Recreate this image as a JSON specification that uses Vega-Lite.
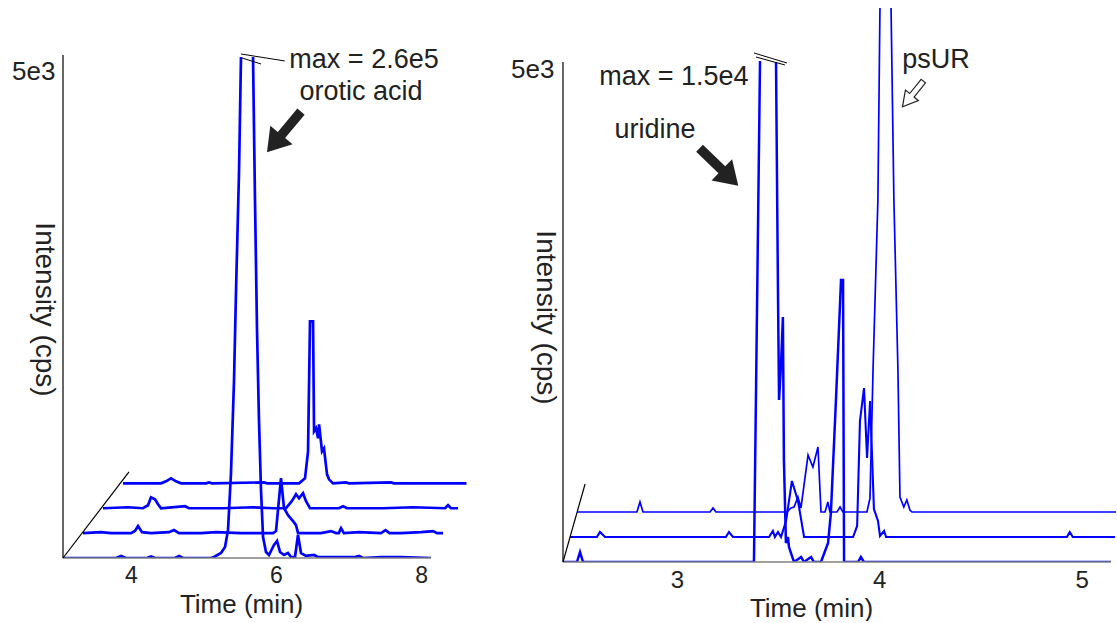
{
  "$schema": "https://vega.github.io/schema/vega-lite/v6.json",
  "padding": {"left": 11, "top": 8, "right": 0, "bottom": 0},
  "background": "white",
  "config": {"view": {"stroke": null}, "font": "Liberation Sans"},
  "spacing": 95,
  "bounds": "flush",
  "datasets": {
    "one": [{}],
    "left": [
      {"trace":0,"t":3.062,"v":0},{"trace":0,"t":3.793,"v":0},{"trace":0,"t":3.862,"v":21},{"trace":0,"t":3.931,"v":0},{"trace":0,"t":4.221,"v":0},{"trace":0,"t":4.276,"v":15},{"trace":0,"t":4.331,"v":0},{"trace":0,"t":4.607,"v":0},{"trace":0,"t":4.662,"v":21},{"trace":0,"t":4.717,"v":0},{"trace":0,"t":5.103,"v":0},{"trace":0,"t":5.145,"v":10},{"trace":0,"t":5.241,"v":51},{"trace":0,"t":5.297,"v":113},{"trace":0,"t":5.338,"v":288},{"trace":0,"t":5.379,"v":875},{"trace":0,"t":5.421,"v":1831},{"trace":0,"t":5.448,"v":2737},{"trace":0,"t":5.49,"v":3982},{"trace":0,"t":5.517,"v":5154},{"trace":0,"t":5.6,"v":null},{"trace":0,"t":5.683,"v":5154},{"trace":0,"t":5.71,"v":3683},{"trace":0,"t":5.738,"v":2346},{"trace":0,"t":5.765,"v":1420},{"trace":0,"t":5.793,"v":700},{"trace":0,"t":5.821,"v":216},{"trace":0,"t":5.862,"v":62},{"trace":0,"t":5.903,"v":31},{"trace":0,"t":5.972,"v":134},{"trace":0,"t":6.014,"v":175},{"trace":0,"t":6.055,"v":62},{"trace":0,"t":6.11,"v":31},{"trace":0,"t":6.165,"v":51},{"trace":0,"t":6.207,"v":10},{"trace":0,"t":6.262,"v":10},{"trace":0,"t":6.303,"v":237},{"trace":0,"t":6.345,"v":51},{"trace":0,"t":6.414,"v":21},{"trace":0,"t":6.524,"v":31},{"trace":0,"t":6.579,"v":10},{"trace":0,"t":7.09,"v":10},{"trace":0,"t":7.145,"v":21},{"trace":0,"t":7.2,"v":0},{"trace":0,"t":7.448,"v":10},{"trace":0,"t":7.724,"v":10},{"trace":0,"t":8.138,"v":0},
      {"trace":1,"t":3.062,"v":0},{"trace":1,"t":3.31,"v":10},{"trace":1,"t":3.448,"v":0},{"trace":1,"t":3.724,"v":0},{"trace":1,"t":3.779,"v":21},{"trace":1,"t":3.821,"v":72},{"trace":1,"t":3.876,"v":10},{"trace":1,"t":4.0,"v":0},{"trace":1,"t":4.248,"v":10},{"trace":1,"t":4.317,"v":31},{"trace":1,"t":4.386,"v":0},{"trace":1,"t":4.69,"v":0},{"trace":1,"t":4.897,"v":10},{"trace":1,"t":5.242,"v":0},{"trace":1,"t":5.683,"v":0},{"trace":1,"t":5.724,"v":21},{"trace":1,"t":5.793,"v":566},{"trace":1,"t":5.834,"v":257},{"trace":1,"t":5.89,"v":185},{"trace":1,"t":5.959,"v":123},{"trace":1,"t":6.0,"v":82},{"trace":1,"t":6.028,"v":0},{"trace":1,"t":6.345,"v":0},{"trace":1,"t":6.483,"v":21},{"trace":1,"t":6.552,"v":0},{"trace":1,"t":6.59,"v":0},{"trace":1,"t":6.621,"v":51},{"trace":1,"t":6.66,"v":0},{"trace":1,"t":6.869,"v":10},{"trace":1,"t":7.172,"v":0},{"trace":1,"t":7.234,"v":31},{"trace":1,"t":7.29,"v":0},{"trace":1,"t":7.448,"v":0},{"trace":1,"t":7.724,"v":10},{"trace":1,"t":7.89,"v":21},{"trace":1,"t":7.945,"v":0},{"trace":1,"t":8.028,"v":0},
      {"trace":2,"t":3.062,"v":0},{"trace":2,"t":3.407,"v":10},{"trace":2,"t":3.614,"v":0},{"trace":2,"t":3.683,"v":31},{"trace":2,"t":3.724,"v":113},{"trace":2,"t":3.779,"v":93},{"trace":2,"t":3.821,"v":41},{"trace":2,"t":3.862,"v":0},{"trace":2,"t":4.193,"v":21},{"trace":2,"t":4.248,"v":0},{"trace":2,"t":4.717,"v":0},{"trace":2,"t":5.131,"v":10},{"trace":2,"t":5.407,"v":0},{"trace":2,"t":5.586,"v":0},{"trace":2,"t":5.655,"v":62},{"trace":2,"t":5.683,"v":93},{"trace":2,"t":5.724,"v":144},{"trace":2,"t":5.766,"v":103},{"trace":2,"t":5.821,"v":154},{"trace":2,"t":5.862,"v":72},{"trace":2,"t":5.917,"v":0},{"trace":2,"t":6.317,"v":0},{"trace":2,"t":6.372,"v":21},{"trace":2,"t":6.428,"v":0},{"trace":2,"t":6.924,"v":0},{"trace":2,"t":7.338,"v":10},{"trace":2,"t":7.779,"v":0},{"trace":2,"t":7.821,"v":31},{"trace":2,"t":7.862,"v":0},{"trace":2,"t":7.959,"v":0},
      {"trace":3,"t":3.062,"v":0},{"trace":3,"t":3.586,"v":0},{"trace":3,"t":3.655,"v":21},{"trace":3,"t":3.724,"v":51},{"trace":3,"t":3.793,"v":21},{"trace":3,"t":3.862,"v":0},{"trace":3,"t":4.207,"v":0},{"trace":3,"t":4.248,"v":10},{"trace":3,"t":4.29,"v":0},{"trace":3,"t":5.007,"v":10},{"trace":3,"t":5.048,"v":0},{"trace":3,"t":5.49,"v":0},{"trace":3,"t":5.572,"v":51},{"trace":3,"t":5.614,"v":329},{"trace":3,"t":5.641,"v":1667},{"trace":3,"t":5.683,"v":1667},{"trace":3,"t":5.697,"v":535},{"trace":3,"t":5.724,"v":566},{"trace":3,"t":5.752,"v":463},{"trace":3,"t":5.766,"v":607},{"trace":3,"t":5.807,"v":329},{"trace":3,"t":5.834,"v":360},{"trace":3,"t":5.876,"v":93},{"trace":3,"t":5.903,"v":41},{"trace":3,"t":5.959,"v":0},{"trace":3,"t":6.138,"v":10},{"trace":3,"t":6.179,"v":0},{"trace":3,"t":6.759,"v":10},{"trace":3,"t":6.8,"v":0},{"trace":3,"t":7.8,"v":0}
    ],
    "right": [
      {"trace":0,"t":2.438,"v":0},{"trace":0,"t":2.507,"v":0},{"trace":0,"t":2.522,"v":102},{"trace":0,"t":2.537,"v":0},{"trace":0,"t":3.381,"v":0},{"trace":0,"t":3.411,"v":5092},{"trace":0,"t":3.45,"v":null},{"trace":0,"t":3.49,"v":5082},{"trace":0,"t":3.5,"v":2663},{"trace":0,"t":3.505,"v":1646},{"trace":0,"t":3.515,"v":2022},{"trace":0,"t":3.524,"v":2490},{"trace":0,"t":3.529,"v":1037},{"trace":0,"t":3.539,"v":193},{"trace":0,"t":3.549,"v":254},{"trace":0,"t":3.554,"v":152},{"trace":0,"t":3.564,"v":91},{"trace":0,"t":3.579,"v":0},{"trace":0,"t":3.614,"v":51},{"trace":0,"t":3.628,"v":0},{"trace":0,"t":3.663,"v":51},{"trace":0,"t":3.677,"v":0},{"trace":0,"t":3.712,"v":0},{"trace":0,"t":3.747,"v":193},{"trace":0,"t":3.761,"v":498},{"trace":0,"t":3.786,"v":1646},{"trace":0,"t":3.811,"v":2866},{"trace":0,"t":3.821,"v":2866},{"trace":0,"t":3.826,"v":0},{"trace":0,"t":3.895,"v":0},{"trace":0,"t":3.909,"v":51},{"trace":0,"t":3.924,"v":0},{"trace":0,"t":5.144,"v":0},
      {"trace":1,"t":2.438,"v":0},{"trace":1,"t":2.571,"v":0},{"trace":1,"t":2.586,"v":51},{"trace":1,"t":2.611,"v":0},{"trace":1,"t":3.208,"v":0},{"trace":1,"t":3.223,"v":51},{"trace":1,"t":3.243,"v":0},{"trace":1,"t":3.421,"v":0},{"trace":1,"t":3.44,"v":61},{"trace":1,"t":3.45,"v":0},{"trace":1,"t":3.465,"v":51},{"trace":1,"t":3.48,"v":0},{"trace":1,"t":3.505,"v":163},{"trace":1,"t":3.534,"v":569},{"trace":1,"t":3.564,"v":366},{"trace":1,"t":3.594,"v":0},{"trace":1,"t":3.836,"v":0},{"trace":1,"t":3.856,"v":112},{"trace":1,"t":3.87,"v":1179},{"trace":1,"t":3.89,"v":1514},{"trace":1,"t":3.905,"v":803},{"trace":1,"t":3.92,"v":1382},{"trace":1,"t":3.939,"v":285},{"trace":1,"t":3.959,"v":163},{"trace":1,"t":3.969,"v":10},{"trace":1,"t":3.989,"v":61},{"trace":1,"t":3.999,"v":0},{"trace":1,"t":4.892,"v":0},{"trace":1,"t":4.906,"v":51},{"trace":1,"t":4.921,"v":0},{"trace":1,"t":5.13,"v":0},
      {"trace":2,"t":2.438,"v":0},{"trace":2,"t":2.734,"v":0},{"trace":2,"t":2.749,"v":102},{"trace":2,"t":2.764,"v":0},{"trace":2,"t":3.095,"v":0},{"trace":2,"t":3.11,"v":41},{"trace":2,"t":3.124,"v":0},{"trace":2,"t":3.475,"v":0},{"trace":2,"t":3.495,"v":41},{"trace":2,"t":3.51,"v":51},{"trace":2,"t":3.529,"v":152},{"trace":2,"t":3.544,"v":41},{"trace":2,"t":3.579,"v":579},{"trace":2,"t":3.603,"v":457},{"trace":2,"t":3.628,"v":661},{"trace":2,"t":3.643,"v":0},{"trace":2,"t":3.663,"v":0},{"trace":2,"t":3.677,"v":102},{"trace":2,"t":3.687,"v":0},{"trace":2,"t":3.722,"v":0},{"trace":2,"t":3.737,"v":51},{"trace":2,"t":3.751,"v":0},{"trace":2,"t":3.87,"v":0},{"trace":2,"t":3.885,"v":142},{"trace":2,"t":3.9,"v":1443},{"trace":2,"t":3.924,"v":3171},{"trace":2,"t":3.934,"v":5092},{"trace":2,"t":3.944,"v":6200},{"trace":2,"t":3.984,"v":6200},{"trace":2,"t":3.989,"v":5112},{"trace":2,"t":4.003,"v":3171},{"trace":2,"t":4.023,"v":1443},{"trace":2,"t":4.033,"v":152},{"trace":2,"t":4.052,"v":51},{"trace":2,"t":4.067,"v":122},{"trace":2,"t":4.082,"v":20},{"trace":2,"t":4.092,"v":0},{"trace":2,"t":5.1,"v":0}
    ],
    "leftText": [
      {"label":"max = 2.6e5","t":7.214,"v":5041},
      {"label":"orotic acid","t":7.172,"v":4712}
    ],
    "rightText": [
      {"label":"max = 1.5e4","t":2.986,"v":4848},
      {"label":"uridine","t":2.892,"v":4309},
      {"label":"psUR","t":4.28,"v":5021}
    ]
  },
  "hconcat": [
    {
      "width": 405,
      "height": 550,
      "layer": [
        {
          "data": {"name": "left"},
          "transform": [
            {"calculate": "datum.t + datum.trace * 0.2759", "as": "td"},
            {"calculate": "datum.v === null ? null : datum.v + datum.trace * 256", "as": "vd"}
          ],
          "mark": {"type": "line", "color": "#0000ff", "strokeWidth": 2.7, "clip": true, "invalid": "break-paths-show-domains"},
          "encoding": {
            "x": {"field": "td", "type": "quantitative", "scale": {"domain": [3.062, 8.648], "nice": false, "zero": false},
              "axis": {"values": [4, 6, 8], "format": "d", "domain": false, "ticks": false, "grid": false, "labelFontSize": 23, "labelPadding": 6, "labelColor": "#222", "labelFlush": false, "labelOverlap": false,
                "title": "Time (min)", "titleFontSize": 26, "titleFontWeight": "normal", "titleColor": "#222", "titleX": 178, "titleY": 54, "titleAlign": "center", "titleBaseline": "alphabetic"}},
            "y": {"field": "vd", "type": "quantitative", "scale": {"domain": [0, 5658], "nice": false, "zero": false},
              "axis": {"values": [5000], "labelExpr": "'5e3'", "domain": false, "ticks": false, "grid": false, "labelFontSize": 26, "labelPadding": 8, "labelColor": "#222",
                "title": "Intensity (cps)", "titleAngle": 90, "titleX": -28, "titleY": 301, "titleAlign": "center", "titleBaseline": "alphabetic", "titleFontSize": 28, "titleFontWeight": "normal", "titleColor": "#222"}},
            "detail": {"field": "trace"}
          }
        },
        {
          "data": {"name": "one"},
          "mark": {"type": "rule", "color": "#808080", "strokeWidth": 1.5},
          "encoding": {
            "x": {"datum": 3.062, "type": "quantitative"},
            "x2": {"datum": 8.138},
            "y": {"datum": 0, "type": "quantitative"}
          }
        },
        {
          "data": {"name": "one"},
          "mark": {"type": "rule", "color": "black", "strokeWidth": 1.2},
          "encoding": {
            "x": {"datum": 3.062, "type": "quantitative"},
            "y": {"datum": 0, "type": "quantitative"},
            "y2": {"datum": 5175}
          }
        },
        {
          "data": {"name": "one"},
          "mark": {"type": "rule", "color": "black", "strokeWidth": 1.2},
          "encoding": {
            "x": {"datum": 3.062, "type": "quantitative"},
            "x2": {"datum": 3.972},
            "y": {"datum": 0, "type": "quantitative"},
            "y2": {"datum": 885}
          }
        },
        {
          "data": {"name": "one"},
          "mark": {"type": "rule", "color": "black", "strokeWidth": 1},
          "encoding": {
            "x": {"datum": 5.517, "type": "quantitative"},
            "x2": {"datum": 6.121},
            "y": {"datum": 5185, "type": "quantitative"},
            "y2": {"datum": 5113}
          }
        },
        {
          "data": {"name": "one"},
          "mark": {"type": "rule", "color": "black", "strokeWidth": 1},
          "encoding": {
            "x": {"datum": 5.531, "type": "quantitative"},
            "x2": {"datum": 5.793},
            "y": {"datum": 5144, "type": "quantitative"},
            "y2": {"datum": 5082}
          }
        },
        {
          "data": {"name": "leftText"},
          "mark": {"type": "text", "fontSize": 27, "color": "#222", "align": "center", "baseline": "alphabetic"},
          "encoding": {
            "x": {"field": "t", "type": "quantitative"},
            "y": {"field": "v", "type": "quantitative"},
            "text": {"field": "label"}
          }
        },
        {
          "data": {"name": "one"},
          "mark": {"type": "point", "shape": "M0,-1L0.55,-0.15L0.18,-0.15L0.18,1L-0.18,1L-0.18,-0.15L-0.55,-0.15Z", "filled": true, "color": "#222", "opacity": 1, "size": 2800, "angle": 220},
          "encoding": {
            "x": {"datum": 6.11, "type": "quantitative"},
            "y": {"datum": 4383, "type": "quantitative"}
          }
        }
      ]
    },
    {
      "width": 553,
      "height": 554,
      "layer": [
        {
          "data": {"name": "right"},
          "transform": [
            {"calculate": "datum.t + datum.trace * 0.03457", "as": "td"},
            {"calculate": "datum.v === null ? null : datum.v + datum.trace * 254", "as": "vd"}
          ],
          "mark": {"type": "line", "color": "#0000ff", "clip": true, "invalid": "break-paths-show-domains"},
          "encoding": {
            "x": {"field": "td", "type": "quantitative", "scale": {"domain": [2.438, 5.169], "nice": false, "zero": false},
              "axis": {"values": [3, 4, 5], "format": "d", "domain": false, "ticks": false, "grid": false, "labelFontSize": 24, "labelPadding": 6, "labelColor": "#222", "labelFlush": false, "labelOverlap": false,
                "title": "Time (min)", "titleFontSize": 26, "titleFontWeight": "normal", "titleColor": "#222", "titleX": 248, "titleY": 54, "titleAlign": "center", "titleBaseline": "alphabetic"}},
            "y": {"field": "vd", "type": "quantitative", "scale": {"domain": [0, 5630], "nice": false, "zero": false},
              "axis": {"values": [5000], "labelExpr": "'5e3'", "domain": false, "ticks": false, "grid": false, "labelFontSize": 26, "labelPadding": 9, "labelColor": "#222",
                "title": "Intensity (cps)", "titleAngle": 90, "titleX": -27, "titleY": 309, "titleAlign": "center", "titleBaseline": "alphabetic", "titleFontSize": 28, "titleFontWeight": "normal", "titleColor": "#222"}},
            "detail": {"field": "trace"},
            "strokeWidth": {"field": "trace", "type": "ordinal", "scale": {"domain": [0, 1, 2], "range": [2.5, 1.7, 1.7]}, "legend": null}
          }
        },
        {
          "data": {"name": "one"},
          "mark": {"type": "rule", "color": "#808080", "strokeWidth": 1.5},
          "encoding": {
            "x": {"datum": 2.438, "type": "quantitative"},
            "x2": {"datum": 5.144},
            "y": {"datum": 0, "type": "quantitative"}
          }
        },
        {
          "data": {"name": "one"},
          "mark": {"type": "rule", "color": "black", "strokeWidth": 1.2},
          "encoding": {
            "x": {"datum": 2.438, "type": "quantitative"},
            "y": {"datum": 0, "type": "quantitative"},
            "y2": {"datum": 5081}
          }
        },
        {
          "data": {"name": "one"},
          "mark": {"type": "rule", "color": "black", "strokeWidth": 1.2},
          "encoding": {
            "x": {"datum": 2.438, "type": "quantitative"},
            "x2": {"datum": 2.547},
            "y": {"datum": 0, "type": "quantitative"},
            "y2": {"datum": 793}
          }
        },
        {
          "data": {"name": "one"},
          "mark": {"type": "rule", "color": "black", "strokeWidth": 1},
          "encoding": {
            "x": {"datum": 3.381, "type": "quantitative"},
            "x2": {"datum": 3.544},
            "y": {"datum": 5173, "type": "quantitative"},
            "y2": {"datum": 5071}
          }
        },
        {
          "data": {"name": "one"},
          "mark": {"type": "rule", "color": "black", "strokeWidth": 1},
          "encoding": {
            "x": {"datum": 3.391, "type": "quantitative"},
            "x2": {"datum": 3.534},
            "y": {"datum": 5132, "type": "quantitative"},
            "y2": {"datum": 5051}
          }
        },
        {
          "data": {"name": "rightText"},
          "mark": {"type": "text", "fontSize": 27, "color": "#222", "align": "center", "baseline": "alphabetic"},
          "encoding": {
            "x": {"field": "t", "type": "quantitative"},
            "y": {"field": "v", "type": "quantitative"},
            "text": {"field": "label"}
          }
        },
        {
          "data": {"name": "one"},
          "mark": {"type": "point", "shape": "M0,-1L0.55,-0.15L0.18,-0.15L0.18,1L-0.18,1L-0.18,-0.15L-0.55,-0.15Z", "filled": true, "color": "#222", "opacity": 1, "size": 2900, "angle": 134},
          "encoding": {
            "x": {"datum": 3.208, "type": "quantitative"},
            "y": {"datum": 4014, "type": "quantitative"}
          }
        },
        {
          "data": {"name": "one"},
          "mark": {"type": "point", "shape": "M0,-1L0.5,-0.1L0.17,-0.1L0.17,1L-0.17,1L-0.17,-0.1L-0.5,-0.1Z", "filled": true, "fill": "white", "stroke": "#222", "strokeWidth": 1.2, "opacity": 1, "size": 1100, "angle": 219},
          "encoding": {
            "x": {"datum": 4.166, "type": "quantitative"},
            "y": {"datum": 4756, "type": "quantitative"}
          }
        }
      ]
    }
  ]
}
